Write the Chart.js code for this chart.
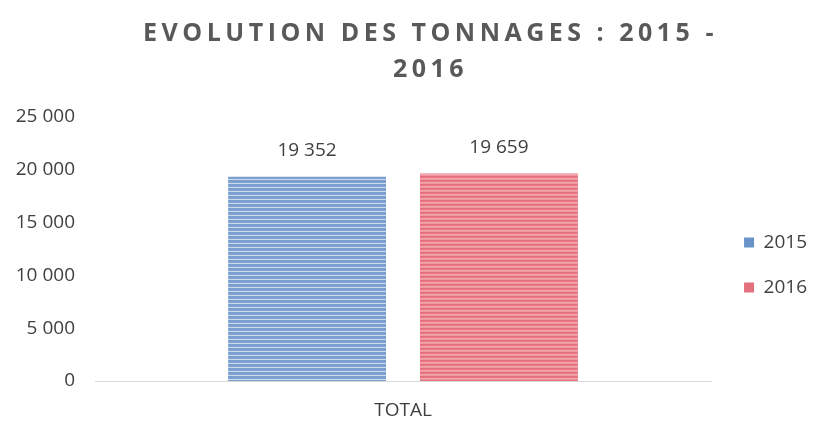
<!DOCTYPE html>
<html>
<head>
<meta charset="utf-8">
<script src="https://cdn.jsdelivr.net/npm/chart.js@4.4.0/dist/chart.umd.min.js"></script>
<style>
  html, body { margin: 0; padding: 0; background: #ffffff; }
  canvas { display: block; }
</style>
</head>
<body>
<canvas id="c" width="817" height="421"></canvas>
<script>
// ---- data ----
const categories = ['TOTAL'];
const seriesNames = ['2015', '2016'];
const values2015 = [19352];
const values2016 = [19659];
const yTicks = [0, 5000, 10000, 15000, 20000, 25000];
const titleLines = ['EVOLUTION DES TONNAGES : 2015 -', '2016'];

function fmt(v) {
  return String(v).replace(/\B(?=(\d{3})+(?!\d))/g, ' ');
}

function stripePattern(rows) {
  const c = document.createElement('canvas');
  c.width = 4; c.height = rows.length;
  const g = c.getContext('2d');
  rows.forEach((col, i) => { g.fillStyle = col; g.fillRect(0, i, 4, 1); });
  return g.createPattern(c, 'repeat');
}
const bluePattern = stripePattern(['#7a9ecf', '#7a9ecf', '#80a4d2', '#cddaec']);
const redPattern = stripePattern(['#e66f7c', '#e8787f', '#f2a6ae', '#ee959e']);
const legendColors = ['#6a93c9', '#e4707e'];

const titleSpacing = {
  id: 'titleSpacing',
  afterInit(chart) {
    const tb = chart.titleBlock;
    if (!tb || tb._spaced) return;
    const orig = tb.draw.bind(tb);
    tb.draw = function (...args) {
      const ctx = chart.ctx;
      ctx.save();
      ctx.letterSpacing = '4.5px';
      ctx.translate(22, 0);
      orig(...args);
      ctx.restore();
    };
    tb._spaced = true;
  }
};

const valueLabels = {
  id: 'valueLabels',
  afterDatasetsDraw(chart) {
    const ctx = chart.ctx;
    ctx.save();
    ctx.font = '19px "Open Sans"';
    ctx.fillStyle = '#404040';
    ctx.textAlign = 'center';
    ctx.textBaseline = 'middle';
    chart.data.datasets.forEach((ds, di) => {
      const meta = chart.getDatasetMeta(di);
      meta.data.forEach((bar, i) => {
        ctx.fillText(fmt(ds.data[i]), bar.x, bar.y - 26);
      });
    });
    ctx.restore();
  }
};

new Chart(document.getElementById('c'), {
  type: 'bar',
  data: {
    labels: categories,
    datasets: [
      { label: seriesNames[0], data: values2015, backgroundColor: bluePattern, borderWidth: 0,
        categoryPercentage: 0.623, barPercentage: 0.823 },
      { label: seriesNames[1], data: values2016, backgroundColor: redPattern, borderWidth: 0,
        categoryPercentage: 0.623, barPercentage: 0.823 }
    ]
  },
  options: {
    responsive: false,
    animation: false,
    layout: { padding: 0 },
    plugins: {
      tooltip: { enabled: false },
      title: {
        display: true,
        text: titleLines,
        color: '#595959',
        font: { family: '"Open Sans"', size: 25, weight: 'bold', lineHeight: 1.44 },
        padding: { top: 16, bottom: 29 }
      },
      legend: {
        position: 'right',
        title: { display: true, text: '', font: { size: 2, lineHeight: '2px' }, padding: { top: 100, bottom: 0 } },
        labels: {
          boxWidth: 10,
          boxHeight: 10,
          padding: 33,
          color: '#404040',
          font: { family: '"Open Sans"', size: 19, lineHeight: '12px' },
          generateLabels(chart) {
            const items = Chart.defaults.plugins.legend.labels.generateLabels(chart);
            return items.map((it, i) => Object.assign(it, {
              text: [it.text],
              fillStyle: legendColors[i],
              strokeStyle: legendColors[i],
              lineWidth: 0
            }));
          }
        }
      }
    },
    scales: {
      x: {
        grid: { display: false, drawTicks: false },
        border: { display: true, color: '#d9d9d9', width: 1 },
        ticks: { color: '#404040', padding: 18, font: { family: '"Open Sans"', size: 19 } },
        afterFit(scale) { scale.height = 40; }
      },
      y: {
        min: 0,
        max: yTicks[yTicks.length - 1],
        afterBuildTicks(scale) { scale.ticks = yTicks.map(v => ({ value: v })); },
        grid: { display: false, drawTicks: false },
        border: { display: false },
        ticks: {
          color: '#404040',
          padding: 20,
          font: { family: '"Open Sans"', size: 19 },
          callback: (v) => fmt(v)
        },
        afterFit(scale) { scale.width = 95; }
      }
    }
  },
  plugins: [titleSpacing, valueLabels]
});
</script>
</body>
</html>
